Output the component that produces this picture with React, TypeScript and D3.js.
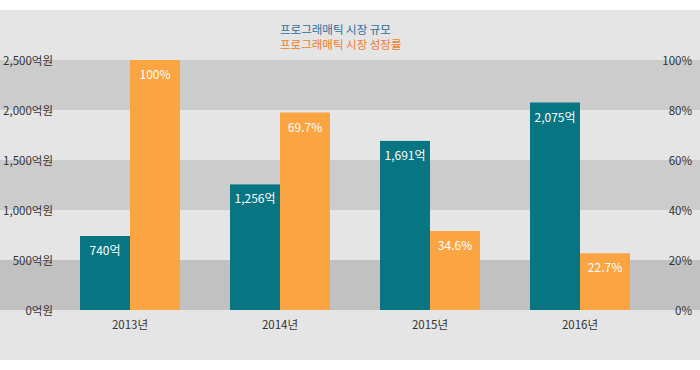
import React from "react";
import * as d3 from "d3";

const years = ["2013년", "2014년", "2015년", "2016년"];
const marketSize = [740, 1256, 1691, 2075];
// bar heights as drawn in the reference (percent of the right axis)
const growthRate = [100, 79, 31.6, 22.7];
// labels printed on the growth bars
const growthLabels = ["100%", "69.7%", "34.6%", "22.7%"];
const leftTicks = [0, 500, 1000, 1500, 2000, 2500];
const rightTicks = [0, 20, 40, 60, 80, 100];
const legendLabels = ["프로그래매틱 시장 규모", "프로그래매틱 시장 성장률"];

const W = 700;
const H = 370;
const FONT = "'Noto Sans CJK KR', 'Noto Sans', sans-serif";

export default function App() {
  const top = 60;
  const bottom = 310;
  const x = d3.scaleBand<string>().domain(years).range([55, 655]);
  const sub = d3.scaleBand<string>().domain(["size", "rate"]).range([25, 125]);
  const yL = d3.scaleLinear().domain([0, 2500]).range([bottom, top]);
  const yR = d3.scaleLinear().domain([0, 100]).range([bottom, top]);
  const fmt = d3.format(",");

  const bands = [
    { from: 2000, to: 2500, fill: "#cccccc" },
    { from: 1000, to: 1500, fill: "#cccccc" },
    { from: 0, to: 500, fill: "#c1c1c1" },
  ];

  return (
    <svg
      width={W}
      height={H}
      style={{ position: "absolute", left: 0, top: 0, fontFamily: FONT }}
    >
      <rect x={0} y={0} width={W} height={H} fill="#ffffff" />
      <rect x={0} y={10} width={W} height={350} fill="#e5e5e5" />
      {bands.map((b, i) => (
        <rect
          key={i}
          x={0}
          y={yL(b.to)}
          width={W}
          height={yL(b.from) - yL(b.to)}
          fill={b.fill}
        />
      ))}
      {leftTicks.map((t) => (
        <text
          key={"l" + t}
          x={53}
          y={yL(t) + 1}
          dy="0.35em"
          textAnchor="end"
          fontSize={11.5}
          fill="#333"
        >
          {fmt(t) + "억원"}
        </text>
      ))}
      {rightTicks.map((t) => (
        <text
          key={"r" + t}
          x={692}
          y={yR(t) + 1}
          dy="0.35em"
          textAnchor="end"
          fontSize={11.5}
          fill="#333"
        >
          {t + "%"}
        </text>
      ))}
      {years.map((yr, i) => {
        const x0 = x(yr)!;
        const xs = x0 + sub("size")!;
        const xr = x0 + sub("rate")!;
        const bw = sub.bandwidth();
        return (
          <g key={yr}>
            <rect
              x={xs}
              y={yL(marketSize[i])}
              width={bw}
              height={bottom - yL(marketSize[i])}
              fill="#077582"
            />
            <rect
              x={xr}
              y={yR(growthRate[i])}
              width={bw}
              height={bottom - yR(growthRate[i])}
              fill="#fba442"
            />
            <text
              x={xs + bw / 2}
              y={yL(marketSize[i]) + 19}
              textAnchor="middle"
              fontSize={12}
              fill="#ffffff"
            >
              {fmt(marketSize[i]) + "억"}
            </text>
            <text
              x={xr + bw / 2}
              y={yR(growthRate[i]) + 19}
              textAnchor="middle"
              fontSize={12}
              fill="#ffffff"
            >
              {growthLabels[i]}
            </text>
            <text
              x={x0 + x.bandwidth() / 2}
              y={325}
              dy="0.35em"
              textAnchor="middle"
              fontSize={11.5}
              fill="#333"
            >
              {yr}
            </text>
          </g>
        );
      })}
      <text x={280} y={29.5} dy="0.35em" fontSize={11.5} fill="#2c6e9c">
        {legendLabels[0]}
      </text>
      <text x={280} y={45} dy="0.35em" fontSize={11.5} fill="#f07a2c">
        {legendLabels[1]}
      </text>
    </svg>
  );
}
